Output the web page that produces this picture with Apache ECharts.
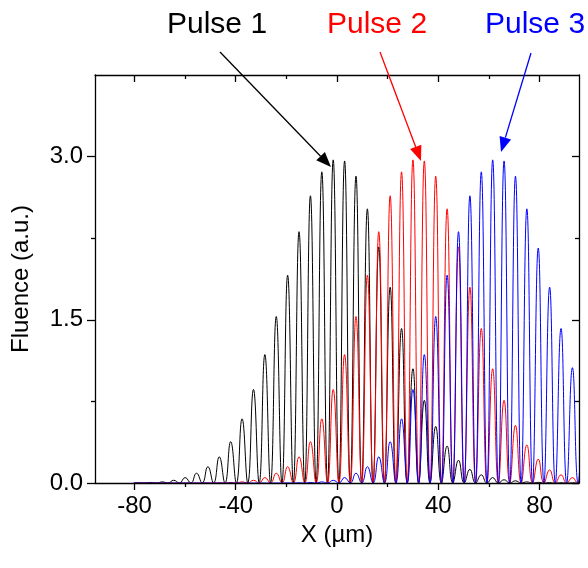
<!DOCTYPE html>
<html>
<head>
<meta charset="utf-8">
<script src="https://cdn.jsdelivr.net/npm/echarts@6/dist/echarts.min.js"></script>
<style>
html,body{margin:0;padding:0;background:#fff;}
#chart{width:588px;height:568px;}
</style>
</head>
<body>
<div id="chart"></div>
<script>
// Fringe maxima positions (µm), common to all three pulses
const peakX = [-78, -73.5, -69, -64.5, -60, -55.5, -51, -46.5, -42, -37.5, -33, -28.5, -24, -19.5, -15, -10.5, -6, -1.5, 3, 7.5, 12, 16.5, 21, 25.5, 30, 34.5, 39, 43.5, 48, 52.5, 57, 61.5, 66, 70.5, 75, 79.5, 84, 88.5, 93, 97.5];
// Fringe minima positions (µm), where the fluence drops to zero
const troughX = [-80.25, -75.75, -71.25, -66.75, -62.25, -57.75, -53.25, -48.75, -44.25, -39.75, -35.25, -30.75, -26.25, -21.75, -17.25, -12.75, -8.25, -3.75, 0.75, 5.25, 9.75, 14.25, 18.75, 23.25, 27.75, 32.25, 36.75, 41.25, 45.75, 50.25, 54.75, 59.25, 63.75, 68.25, 72.75, 77.25, 81.75, 86.25, 90.75, 95.25, 99.75];
const troughY = 0;
// Peak fluence of each fringe (a.u.)
const pulse1 = [0.002, 0.005, 0.01, 0.025, 0.05, 0.09, 0.15, 0.24, 0.38, 0.59, 0.86, 1.18, 1.53, 1.91, 2.31, 2.64, 2.86, 2.97, 2.96, 2.82, 2.52, 2.17, 1.80, 1.42, 1.05, 0.76, 0.52, 0.34, 0.21, 0.125, 0.075, 0.05, 0.03, 0.02, 0.01, 0.006, 0.003, 0.002, 0.001, 0.001];
const pulse2 = [0, 0, 0, 0, 0, 0, 0.001, 0.002, 0.005, 0.01, 0.025, 0.05, 0.09, 0.15, 0.24, 0.38, 0.59, 0.86, 1.18, 1.53, 1.91, 2.31, 2.64, 2.86, 2.97, 2.96, 2.82, 2.52, 2.17, 1.80, 1.42, 1.05, 0.76, 0.53, 0.35, 0.22, 0.12, 0.075, 0.05, 0.03];
const pulse3 = [0, 0, 0, 0, 0, 0, 0, 0, 0, 0, 0, 0, 0, 0.001, 0.002, 0.005, 0.01, 0.025, 0.05, 0.09, 0.15, 0.24, 0.38, 0.59, 0.86, 1.18, 1.53, 1.91, 2.31, 2.64, 2.86, 2.97, 2.96, 2.82, 2.52, 2.16, 1.80, 1.42, 1.06, 0.76];
const seriesNames = ['Pulse 1', 'Pulse 2', 'Pulse 3'];
const seriesColors = ['#000000', '#ff0000', '#0000ff'];
const xMajorTicks = [-80, -40, 0, 40, 80];
const xMinorTicks = [-60, -20, 20, 60];
const yMajorTicks = [0, 1.5, 3.0];
const yMinorTicks = [0.75, 2.25];

function build(peaks) {
  const out = [];
  for (let i = 0; i < peaks.length; i++) {
    out.push([troughX[i], troughY]);
    out.push([peakX[i], peaks[i]]);
  }
  out.push([troughX[peaks.length], troughY]);
  return out;
}

const FONT = '"Liberation Sans", Arial, sans-serif';
const chart = echarts.init(document.getElementById('chart'), null, {renderer: 'canvas'});
const xRange = {min: -95.6, max: 95.6};
const yRange = {min: 0, max: 3.75};
const axisLineStyle = {color: '#000', width: 1.3};

function xAx(pos, ticks, len, inside, labels, showLine) {
  return Object.assign({
    type: 'value', position: pos, z: 10,
    axisLine: {show: showLine, onZero: false, lineStyle: axisLineStyle},
    axisTick: {show: true, inside: inside, length: len, customValues: ticks, lineStyle: {color: '#000', width: 1.3}},
    axisLabel: labels ? {show: true, customValues: ticks, margin: 11, color: '#000', fontSize: 24, fontFamily: FONT} : {show: false},
    splitLine: {show: false}
  }, xRange);
}
function yAx(pos, ticks, len, inside, labels, showLine) {
  return Object.assign({
    type: 'value', position: pos, z: 10,
    axisLine: {show: showLine, onZero: false, lineStyle: axisLineStyle},
    axisTick: {show: true, inside: inside, length: len, customValues: ticks, lineStyle: {color: '#000', width: 1.3}},
    axisLabel: labels ? {show: true, customValues: ticks, margin: 12, color: '#000', fontSize: 24, fontFamily: FONT,
      formatter: v => Number(v).toFixed(1)} : {show: false},
    splitLine: {show: false}
  }, yRange);
}

const xAxes = [
  xAx('bottom', xMajorTicks, 7, false, true, true),
  xAx('bottom', xMinorTicks, 4, false, false, false),
  xAx('top', xMajorTicks, 7, true, false, true),
  xAx('top', xMinorTicks, 4, true, false, false)
];
xAxes[0].name = 'X (µm)';
xAxes[0].nameLocation = 'middle';
xAxes[0].nameGap = 36;
xAxes[0].nameTextStyle = {color: '#000', fontSize: 24, fontFamily: FONT};

const yAxes = [
  yAx('left', yMajorTicks, 8, false, true, true),
  yAx('left', yMinorTicks, 4, false, false, false),
  yAx('right', yMajorTicks, 7, true, false, true),
  yAx('right', yMinorTicks, 4, true, false, false)
];
yAxes[0].name = 'Fluence (a.u.)';
yAxes[0].nameLocation = 'middle';
yAxes[0].nameGap = 62;
yAxes[0].nameRotate = 90;
yAxes[0].nameTextStyle = {color: '#000', fontSize: 24, fontFamily: FONT};

const pulses = [pulse1, pulse2, pulse3];
const series = pulses.map((p, i) => ({
  name: seriesNames[i], type: 'line', data: build(p), xAxisIndex: 0, yAxisIndex: 0,
  smooth: 0.5, showSymbol: false, symbol: 'none', clip: true, z: 2,
  lineStyle: {color: seriesColors[i], width: 1}, itemStyle: {color: seriesColors[i]},
  emphasis: {disabled: true}, silent: true, animation: false
}));

function arrow(x1, y1, x2, y2, color) {
  const dx = x2 - x1, dy = y2 - y1, L = Math.hypot(dx, dy);
  const ux = dx / L, uy = dy / L, hl = 15, hw = 6;
  const bx = x2 - ux * hl, by = y2 - uy * hl;
  return [
    {type: 'line', shape: {x1: x1, y1: y1, x2: bx, y2: by}, style: {stroke: color, lineWidth: 1.3}, z: 100},
    {type: 'polygon', shape: {points: [[x2, y2], [bx - uy * hw, by + ux * hw], [bx + uy * hw, by - ux * hw]]}, style: {fill: color}, z: 100}
  ];
}

const graphics = [
  {type: 'text', left: 167, top: 10, style: {text: 'Pulse 1', fill: seriesColors[0], font: '30px ' + FONT}, z: 100},
  {type: 'text', left: 327, top: 10, style: {text: 'Pulse 2', fill: seriesColors[1], font: '30px ' + FONT}, z: 100},
  {type: 'text', left: 485, top: 10, style: {text: 'Pulse 3', fill: seriesColors[2], font: '30px ' + FONT}, z: 100}
].concat(arrow(220, 52, 331, 167, seriesColors[0]))
 .concat(arrow(380, 52, 421, 161, seriesColors[1]))
 .concat(arrow(531, 53, 501, 152, seriesColors[2]));

chart.setOption({
  animation: false,
  backgroundColor: '#fff',
  grid: {left: 95, right: 9, top: 75, bottom: 85, containLabel: false},
  xAxis: xAxes,
  yAxis: yAxes,
  series: series,
  graphic: graphics
});
</script>
</body>
</html>
